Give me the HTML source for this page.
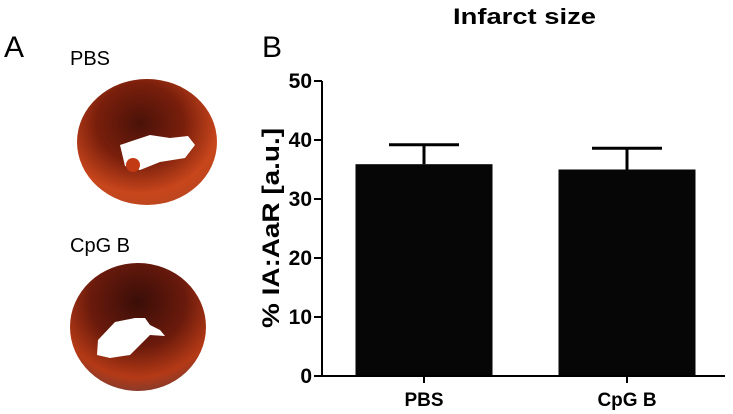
<!DOCTYPE html>
<html><head><meta charset="utf-8"><style>
html,body{margin:0;padding:0;background:#fff;width:733px;height:414px;overflow:hidden}
svg{display:block;font-family:"Liberation Sans",Arial,sans-serif}
</style></head><body>
<svg id="fig" width="733" height="414" viewBox="0 0 733 414">
<defs>
<radialGradient id="hg1" cx="0.45" cy="0.35" r="0.7">
<stop offset="0" stop-color="#4a1208"/><stop offset="0.45" stop-color="#7a1f0c"/><stop offset="0.8" stop-color="#c8461c"/><stop offset="1" stop-color="#b8471f"/></radialGradient>
<radialGradient id="hg2" cx="0.5" cy="0.3" r="0.7">
<stop offset="0" stop-color="#3a0e08"/><stop offset="0.5" stop-color="#6a1a0c"/><stop offset="0.85" stop-color="#b53a16"/><stop offset="1" stop-color="#8a3a2a"/></radialGradient>
</defs>
<text x="4" y="57" font-size="30">A</text>
<text x="70" y="65" font-size="20">PBS</text>
<g>
<ellipse cx="147" cy="142" rx="70" ry="63" fill="url(#hg1)"/>
<path d="M120 145 L150 135 L170 138 L188 136 L195 145 L185 158 L160 162 L140 170 L125 166 Z" fill="#fff"/>
<circle cx="133" cy="165" r="7" fill="#c23a14"/>
</g>
<text x="70" y="252" font-size="20">CpG B</text>
<g>
<ellipse cx="138" cy="327" rx="68" ry="64" fill="url(#hg2)"/>
<path d="M98 340 L115 322 L135 318 L145 318 L150 325 L160 330 L165 336 L150 335 L140 345 L130 355 L110 358 L97 355 Z" fill="#fff"/>
</g>
<text x="262" y="57" font-size="30">B</text>
<text x="453" y="24" font-size="22" font-weight="bold" textLength="143" lengthAdjust="spacingAndGlyphs">Infarct size</text>
<text transform="translate(279,228) rotate(-90)" font-size="24" font-weight="bold" text-anchor="middle" textLength="200" lengthAdjust="spacingAndGlyphs">% IA:AaR [a.u.]</text>
<g id="plot"></g>
</svg>
<script>
const categories = ["PBS", "CpG B"];
const means = [35.9, 35.0];
const errors = [3.3, 3.6];
const yTicks = [0, 10, 20, 30, 40, 50];
const ns = "http://www.w3.org/2000/svg";
const g = document.getElementById("plot");
const x0 = 322, x1 = 725, yb = 376, yt = 81, ymax = 50;
const centers = [424, 627], barW = 137;
function ys(v){ return yb - (v / ymax) * (yb - yt); }
function mk(tag, attrs){ const e = document.createElementNS(ns, tag); for (const k in attrs) e.setAttribute(k, attrs[k]); g.appendChild(e); return e; }
categories.forEach((c, i) => {
  const cx = centers[i];
  const err = mk("path", {d: `M${cx} ${ys(means[i])} V${ys(means[i]+errors[i])} M${cx-35} ${ys(means[i]+errors[i])} H${cx+35}`, stroke: "#000", "stroke-width": 3, fill: "none"});
  
  
  const b = mk("rect", {x: cx - barW/2, y: ys(means[i]), width: barW, height: yb - ys(means[i]), fill: "#060606"});
  
  
  const t = mk("line", {x1: cx, x2: cx, y1: yb, y2: yb + 7, stroke: "#000", "stroke-width": 2});
  
  
  const l = mk("text", {x: cx, y: yb + 30, "font-size": 19, "font-weight": "bold", "text-anchor": "middle"});
  l.textContent = c;
  
  
});
const ax = mk("path", {d: `M${x0} ${yt} V${yb} M${x0 - 8} ${yb} H${x1}`, stroke: "#000", "stroke-width": 2, fill: "none"});


yTicks.forEach(v => {
  const t = mk("line", {x1: x0 - 8, x2: x0, y1: ys(v), y2: ys(v), stroke: "#000", "stroke-width": 2});
  
  
  const l = mk("text", {x: x0 - 10, y: ys(v) + 7, "font-size": 21, "font-weight": "bold", "text-anchor": "end"});
  l.textContent = v;
  
  
});
</script>
</body></html>
